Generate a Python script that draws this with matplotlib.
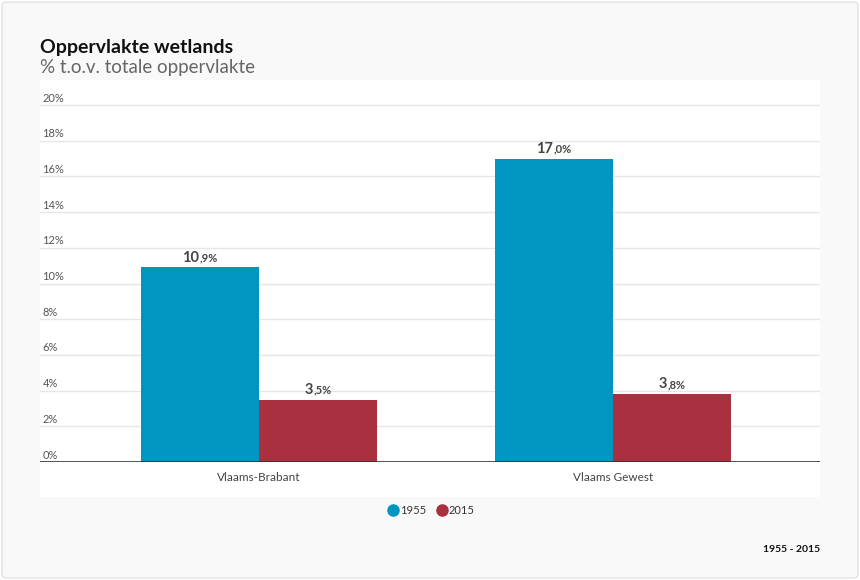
import matplotlib
matplotlib.use("Agg")
from matplotlib import pyplot as plt
from matplotlib.patches import FancyBboxPatch, Rectangle
import numpy as np

plt.rcParams['font.family'] = ['Lato', 'DejaVu Sans']

categories = ["Vlaams-Brabant", "Vlaams Gewest"]
years = ["1955", "2015"]
values_1955 = [10.9, 17.0]
values_2015 = [3.5, 3.8]
colors = ["#0096c1", "#a8303f"]
yticks = [0, 2, 4, 6, 8, 10, 12, 14, 16, 18, 20]

W, H = 860, 580
fig = plt.figure(figsize=(W / 100, H / 100), dpi=100)
fig.patch.set_facecolor("white")

# outer card and white plot area
fig.add_artist(FancyBboxPatch((2 / W, 2 / H), (W - 4) / W, (H - 4) / H,
                              boxstyle="round,pad=0,rounding_size=0.006",
                              transform=fig.transFigure, facecolor="#f9f9f9",
                              edgecolor="#e2e2e2", linewidth=1, zorder=-3))
fig.add_artist(Rectangle((40 / W, (H - 497) / H), 780 / W, (497 - 80) / H,
                         transform=fig.transFigure, facecolor="white", edgecolor="none",
                         zorder=-2))

ax = fig.add_axes([40 / W, (H - 462) / H, 780 / W, (462 - 80) / H])
ax.set_facecolor("none")
px_per_pct = 357 / 20
ax.set_ylim(0, (462 - 80) / px_per_pct)
ax.set_xlim((40 - 259) / 354, 1 + (820 - 613) / 354)

x = np.arange(len(categories))
w = 118 / 354
bars1 = ax.bar(x - w / 2, values_1955, w, color=colors[0], zorder=3)
bars2 = ax.bar(x + w / 2, values_2015, w, color=colors[1], zorder=3)

for t in yticks:
    if t > 0:
        ax.axhline(t, color="#e6e6e6", linewidth=1, zorder=1)
    ax.text(0.003, t + 0.08, f"{t}%", transform=ax.get_yaxis_transform(),
            fontsize=8, color="#555555", ha="left", va="bottom")
ax.axhline(0, color="#333333", linewidth=1.2, zorder=4)

for s in ax.spines.values():
    s.set_visible(False)
ax.set_xticks([])
ax.set_yticks([])

for i, c in enumerate(categories):
    ax.annotate(c, (x[i], 0), xytext=(0, -11), textcoords="offset points",
                ha="center", va="center", fontsize=8.5, color="#444444")

# data labels: big integer part + small decimal part
fig.canvas.draw()
r = fig.canvas.get_renderer()
for bars, vals in [(bars1, values_1955), (bars2, values_2015)]:
    for b, v in zip(bars, vals):
        ip, dp = f"{v:.1f}".split(".")
        cx = b.get_x() + b.get_width() / 2
        t1 = ax.annotate(ip, (cx, v), xytext=(0, 2), textcoords="offset points",
                         ha="left", va="bottom", fontsize=10.5, fontweight="bold",
                         color="#444444")
        t2 = ax.annotate("," + dp + "%", xy=(1, 0.08), xycoords=t1, ha="left", va="bottom",
                         fontsize=8, fontweight="bold", color="#444444")
        w1 = t1.get_window_extent(r).width
        w2 = t2.get_window_extent(r).width
        t1.set_position((-(w1 + w2) / 2 * 72 / fig.dpi, 2))

fig.text(40 / W, 1 - 47 / H, "Oppervlakte wetlands", fontsize=14, fontweight="bold",
         color="#111111", ha="left", va="center")
fig.text(40 / W, 1 - 68 / H, "% t.o.v. totale oppervlakte", fontsize=13.5,
         color="#666666", ha="left", va="center")

# legend
lx = [393, 442]
for i, yr in enumerate(years):
    fig.add_artist(plt.Line2D([lx[i] / W], [1 - 510 / H], marker="o", markersize=8,
                              color=colors[i], transform=fig.transFigure))
    fig.text((lx[i] + 7) / W, 1 - 510 / H, yr, fontsize=8, color="#333333",
             ha="left", va="center")

fig.text(820 / W, 1 - 550 / H, "1955 - 2015", fontsize=7.5, fontweight="bold",
         color="#111111", ha="right", va="center")

fig.savefig("out.png", dpi=100, facecolor=fig.get_facecolor())
